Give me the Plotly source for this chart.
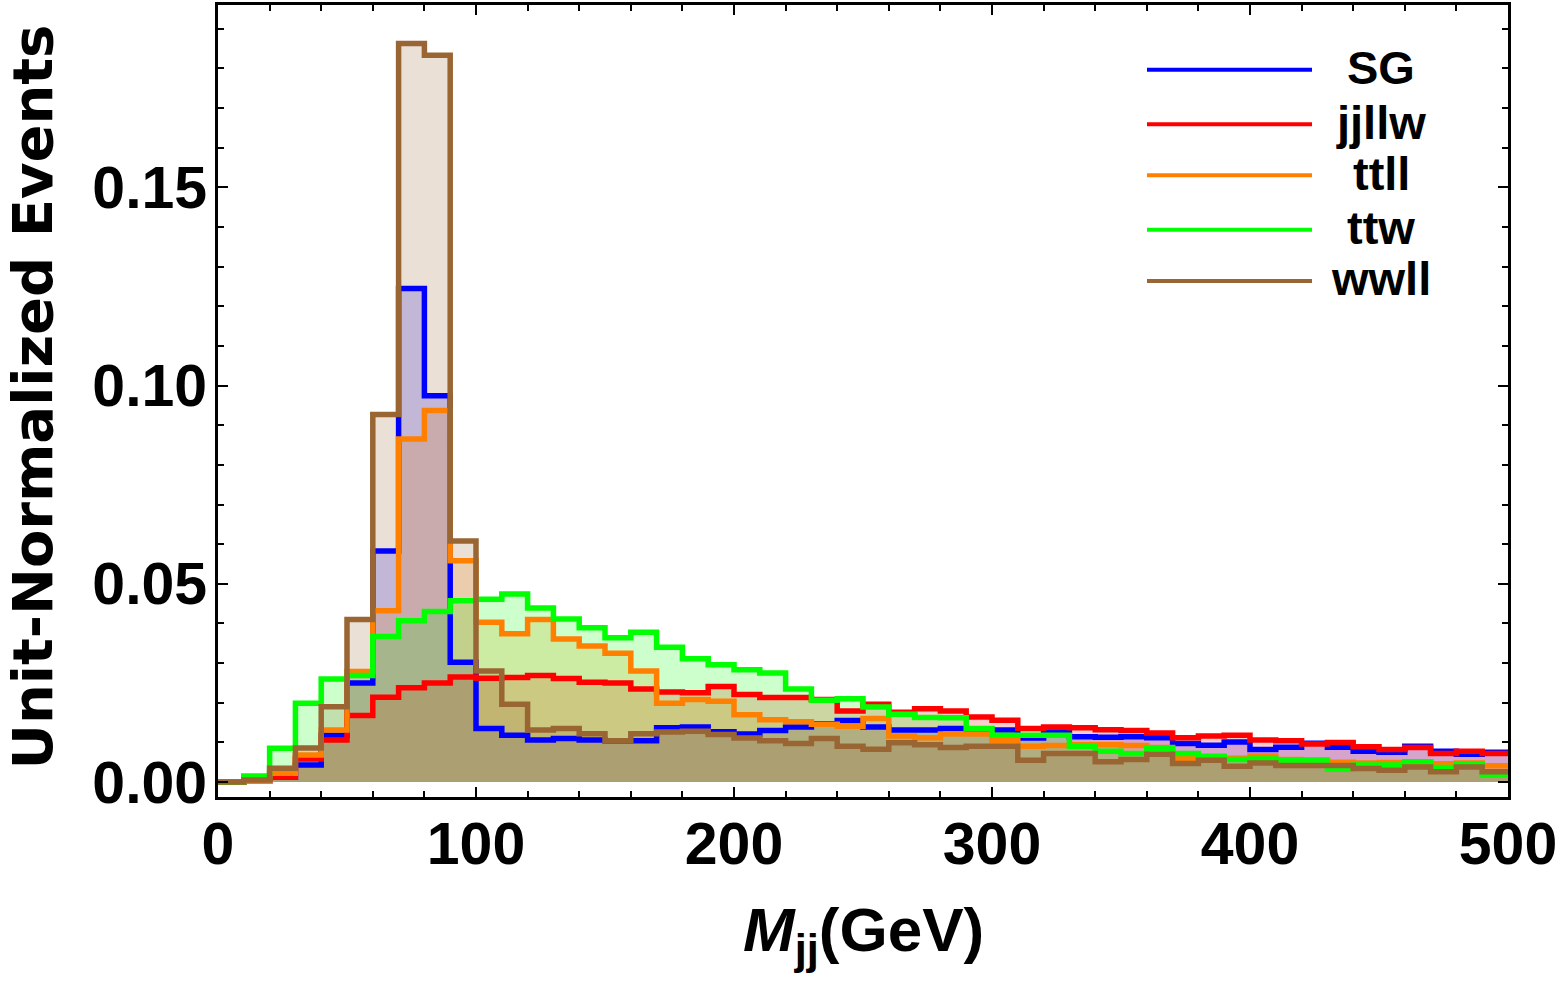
import plotly.graph_objects as go

# ---------------- data (unit-normalized, 10 GeV bins from 0 to 500) ----------------
bin_edges = list(range(0, 510, 10))

sg = [0.0, 0.0003, 0.0012, 0.0043, 0.0118, 0.025, 0.0583, 0.1245, 0.0974, 0.0302,
      0.0135, 0.0118, 0.0106, 0.011, 0.0106, 0.0104, 0.0104, 0.0137, 0.0139, 0.0127,
      0.0121, 0.013, 0.0139, 0.0147, 0.0155, 0.0139, 0.0131, 0.0131, 0.0135, 0.0133,
      0.0131, 0.0111, 0.0126, 0.0114, 0.0113, 0.0114, 0.0112, 0.0097, 0.0093, 0.0101,
      0.0082, 0.0088, 0.0098, 0.0088, 0.0078, 0.0075, 0.009, 0.0078, 0.007, 0.0075]

jjllw = [0.0, 0.0002, 0.0012, 0.0058, 0.0106, 0.0168, 0.0214, 0.0238, 0.025, 0.0265,
         0.0262, 0.0264, 0.0269, 0.0261, 0.0252, 0.025, 0.0235, 0.0227, 0.0225, 0.0241,
         0.0221, 0.0213, 0.0213, 0.0208, 0.0179, 0.0196, 0.0176, 0.0185, 0.0179, 0.0164,
         0.0156, 0.0135, 0.0139, 0.0137, 0.0132, 0.013, 0.0124, 0.0112, 0.0116, 0.0118,
         0.0106, 0.0104, 0.0096, 0.01, 0.0089, 0.0082, 0.0087, 0.0072, 0.0078, 0.0072]

ttll = [0.0, 0.0002, 0.0022, 0.0068, 0.0131, 0.0279, 0.0432, 0.0865, 0.0937, 0.0558,
        0.0403, 0.0374, 0.041, 0.0361, 0.0343, 0.0325, 0.028, 0.0199, 0.0208, 0.0204,
        0.017, 0.0157, 0.0152, 0.0146, 0.0141, 0.016, 0.0116, 0.0112, 0.0121, 0.0121,
        0.0104, 0.009, 0.0092, 0.0094, 0.0094, 0.0092, 0.0087, 0.006, 0.006, 0.006,
        0.0066, 0.0057, 0.0055, 0.005, 0.0048, 0.0049, 0.005, 0.0046, 0.0048, 0.0041]

ttw = [0.0, 0.0015, 0.0085, 0.0199, 0.026, 0.0269, 0.0367, 0.0407, 0.043, 0.0457,
       0.0461, 0.0474, 0.0439, 0.0411, 0.0389, 0.0364, 0.0378, 0.034, 0.0311, 0.0296,
       0.0283, 0.0275, 0.0235, 0.0206, 0.021, 0.0189, 0.0171, 0.0163, 0.0162, 0.0135,
       0.0118, 0.0118, 0.0118, 0.009, 0.0078, 0.0072, 0.0085, 0.0072, 0.0065, 0.0057,
       0.0058, 0.0055, 0.0055, 0.0032, 0.0043, 0.0043, 0.0051, 0.0037, 0.0044, 0.0018]

wwll = [0.0, 0.0005, 0.0035, 0.0086, 0.019, 0.041, 0.0927, 0.1863, 0.1833, 0.0608,
        0.028, 0.0196, 0.0131, 0.0135, 0.0122, 0.0104, 0.0122, 0.0126, 0.0128, 0.012,
        0.0111, 0.0104, 0.0097, 0.011, 0.009, 0.0083, 0.0099, 0.0094, 0.0087, 0.009,
        0.009, 0.0055, 0.0072, 0.0072, 0.0051, 0.0057, 0.007, 0.0047, 0.0055, 0.004,
        0.0048, 0.0042, 0.0042, 0.0042, 0.0034, 0.003, 0.0038, 0.0026, 0.0038, 0.0026]

series_names = ["SG", "jjllw", "ttll", "ttw", "wwll"]
series_values = [sg, jjllw, ttll, ttw, wwll]
x_ticks = [0, 100, 200, 300, 400, 500]
y_ticks = [0.0, 0.05, 0.10, 0.15]

# ---------------- styling ----------------
line_colors = ["rgb(0,0,255)", "rgb(255,0,0)", "rgb(255,128,0)", "rgb(0,255,0)", "rgb(153,102,51)"]
fill_colors = ["rgba(0,0,255,0.2)", "rgba(255,0,0,0.2)", "rgba(255,128,0,0.2)",
               "rgba(0,255,0,0.2)", "rgba(153,102,51,0.2)"]

W, H = 1563, 984
ML, MR, MT, MB = 218, 55, 2, 187
PW, PH = W - ML - MR, H - MT - MB


def px_x(p):
    return (p - ML) / PW


def px_y(p):
    return (H - MB - p) / PH


fig = go.Figure()

# fills first (so all outlines sit on top of every translucent fill)
for name, vals, fc in zip(series_names, series_values, fill_colors):
    fig.add_trace(go.Scatter(
        x=bin_edges, y=vals + [vals[-1]], mode="lines", line_shape="hv",
        line=dict(width=0, color=fc), fill="tozeroy", fillcolor=fc,
        showlegend=False, hoverinfo="skip"))

for name, vals, lc in zip(series_names, series_values, line_colors):
    fig.add_trace(go.Scatter(
        x=bin_edges, y=vals + [vals[-1]], mode="lines", line_shape="hv",
        line=dict(width=5.5, color=lc), name=name, showlegend=False))

tick_font = dict(family="Liberation Sans, Arial, sans-serif", size=59, color="black", weight="bold")

fig.update_xaxes(
    range=[0, 500], tickvals=x_ticks, ticktext=[str(v) for v in x_ticks],
    ticks="inside", ticklen=10, tickwidth=2, tickcolor="black",
    minor=dict(ticks="inside", dtick=20, tick0=0, ticklen=6, tickwidth=2, tickcolor="black"),
    showline=True, linewidth=3, linecolor="black", mirror="allticks",
    showgrid=False, zeroline=False, tickfont=tick_font, ticklabelstandoff=-7)

fig.update_yaxes(
    range=[-0.00377, 0.19598], tickvals=y_ticks, ticktext=["%.2f" % v for v in y_ticks],
    ticks="inside", ticklen=10, tickwidth=2, tickcolor="black",
    minor=dict(ticks="inside", dtick=0.01, tick0=0, ticklen=6, tickwidth=2, tickcolor="black"),
    showline=True, linewidth=3, linecolor="black", mirror="allticks",
    showgrid=False, zeroline=False, tickfont=tick_font, ticklabelstandoff=-4)

annotations = [
    dict(text="Unit-Normalized Events", textangle=-90, x=px_x(33), y=px_y(396),
         xref="paper", yref="paper", xanchor="center", yanchor="middle", showarrow=False,
         font=dict(family="DejaVu Sans", size=56, color="black", weight="bold")),
    dict(text="<i>M</i><sub>jj</sub>(GeV)", x=px_x(863), y=px_y(935),
         xref="paper", yref="paper", xanchor="center", yanchor="middle", showarrow=False,
         font=dict(family="Liberation Sans, Arial, sans-serif", size=62, color="black", weight="bold")),
]

legend_y = [67, 121.7, 173, 227.7, 279]
shapes = []
for name, lc, ly in zip(series_names, line_colors, legend_y):
    shapes.append(dict(type="line", xref="paper", yref="paper",
                       x0=px_x(1147), x1=px_x(1312), y0=px_y(ly), y1=px_y(ly),
                       line=dict(color=lc, width=4)))
    annotations.append(dict(text=name, x=px_x(1381), y=px_y(ly - 2), xref="paper", yref="paper",
                            xanchor="center", yanchor="middle", showarrow=False,
                            font=dict(family="Liberation Sans, Arial, sans-serif", size=47,
                                      color="black", weight="bold")))

fig.update_layout(
    width=W, height=H, margin=dict(l=ML, r=MR, t=MT, b=MB, pad=0),
    plot_bgcolor="white", paper_bgcolor="white",
    annotations=annotations, shapes=shapes, showlegend=False)

fig.write_html("out.html")
